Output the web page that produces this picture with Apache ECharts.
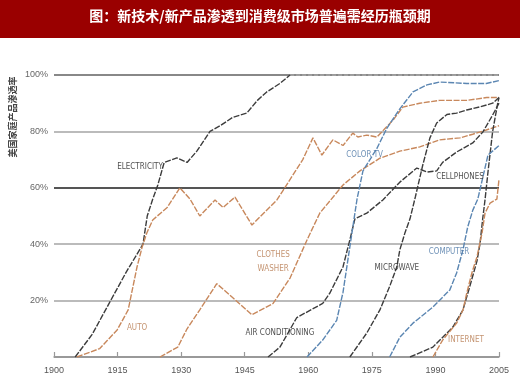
<!DOCTYPE html>
<html><head><meta charset="utf-8">
<script src="https://cdn.jsdelivr.net/npm/echarts@6/dist/echarts.min.js"></script>
<style>html,body{margin:0;padding:0;background:#fff}#c{width:520px;height:390px}</style>
</head><body><div id="c"></div>
<script>
const BASE_YEAR = 1900;
const titleText = '图：新技术/新产品渗透到消费级市场普遍需经历瓶颈期';
const yAxisTitle = '美国家庭产品渗透率';

const electricityYears = [1905,1909,1913,1917,1921,1922,1923.3,1924.5,1926,1929,1931.4,1933.7,1936.8,1939.2,1942.2,1945.5,1948,1950.2,1953.3,1955.7];
const electricityValues = [0,8,19,30,40,50,56,61,69,70.6,69,73,80,82,85,86.5,91,94,97,100];
const electricityFullYears = [1955.7,2005];
const electricityFullValues = [100,100];

const autoYears = [1905.4,1910.8,1914.9,1917.5,1919.6,1920.8,1921.9,1923.3,1926.7,1929.7,1932.1,1934.4,1938,1939.9,1942.7,1946.7,1952.6,1953.8,1958.7,1961.1,1963.2,1965.8,1968.2,1970.5,1971.7,1973.8,1976.2,1978.1,1980,1982.3,1986.3,1991,1997.4,2002.1,2005];
const autoValues = [0,3,9.6,16.7,32,39,44,48.6,53,60,56,50,55.7,53,56.7,46.8,55.7,58.5,70,77.7,71.6,77,75,79.4,78,78.7,78,81,84,88.6,90,91,91,92,92];

const washerYears = [1925,1929.2,1931.4,1934.4,1938.4,1942.2,1946.7,1951.7,1955.7,1959.7,1962.7,1968.2,1972.2,1976.9,1981.6,1986.3,1991,1995.8,1998.8,2002,2005];
const washerValues = [0,3.5,10,16.7,26,21,15,19,28,41.5,51,61,66,70.5,73,74.5,77,77.7,79,80.5,82];

const acYears = [1950.5,1953.3,1957.3,1963.4,1965.1,1968.2,1969.8,1971,1973.8,1977.6,1981.6,1985.6,1988,1990.3,1991.7,1995,1998.8,2001.2,2003.5,2005];
const acValues = [0,3.5,14,19,22.7,32,41.5,49,51,55.7,62,67,65.6,66,69,72.7,75.9,79.8,85.8,90];

const colorTvYears = [1959.7,1963.4,1966.7,1968.2,1969.3,1970.3,1971.5,1972.9,1976.2,1978.5,1981.6,1984.7,1988,1991,1997.4,2002,2005];
const colorTvValues = [0,6,13,23,34,44,56,66,74,81,88,94,96.5,97.5,97,97,98];

const microwaveYears = [1969.8,1973.8,1976.9,1979.2,1980.9,1981.6,1982.8,1984,1985.3,1987,1988.7,1990.3,1992.7,1995,1997.4,2000.5,2003.5,2005];
const microwaveValues = [0,8.5,16.7,25,32,38,44,49,57,68,77.7,83,86,86.5,87.6,88.7,90,92];

const cellphoneYears = [1984,1989.4,1994.1,1996.5,1998.1,1999.8,2000.5,2001.2,2001.7,2002.4,2003.5,2004.7,2005];
const cellphoneValues = [0,3.5,10.6,16.7,25,34,40,49.6,55.7,65.6,80,90,92];

const computerYears = [1979.2,1981.6,1984.7,1989.4,1993.4,1995,1996.5,1997.6,1998.8,2000,2002.4,2005];
const computerValues = [0,7,12,17.7,23.8,29.8,38,46,52,56,71.6,75];

const internetYears = [1989.4,1991.7,1995,1996.5,1997.4,1998.6,1999.8,2001,2001.7,2002.9,2004.5,2005];
const internetValues = [0,6,12,16.7,22.7,29.8,35.5,44,51,54.6,56,63];

const annotationTexts = ['ELECTRICITY','AUTO','CLOTHES\nWASHER','AIR CONDITIONING','COLOR TV','CELLPHONES','MICROWAVE','COMPUTER','INTERNET'];
const annotationYears = [1920.3,1919.6,1951.7,1953.3,1973.3,1995.8,1980.9,1993.2,1997.2];
const annotationValues = [67.4,10.3,33.7,8.5,71.6,63.8,31.6,37.2,6];
const annotationKinds = ['k','o','o','k','b','k','k','b','o'];

const BLACK = '#3c3c3c', ORANGE = '#c8885c', BLUE = '#5b86b2';
const TEXT_COLORS = {k:'#222', o:'#b5784c', b:'#4a76a5'};

function pts(years, values){ return years.map((y,i)=>[y-BASE_YEAR, values[i]]); }
function lineSeries(name, years, values, color, extra){
  return Object.assign({
    name, type:'line', data: pts(years, values), showSymbol:false, symbol:'none',
    lineStyle:{color, width:1.4, type:[6,1.5]}, silent:true, z:3
  }, extra||{});
}

const chart = echarts.init(document.getElementById('c'), null, {renderer:'canvas'});
chart.setOption({
  animation:false,
  backgroundColor:'#fff',
  grid:{left:54, right:21, top:75, bottom:33},
  xAxis:{
    type:'value', min:0, max:105, interval:15,
    axisLine:{lineStyle:{color:'#999', width:1.5}},
    axisTick:{inside:true, length:5, lineStyle:{color:'#999', width:1.2}},
    axisLabel:{formatter:v=>String(BASE_YEAR+v), color:'#555', fontSize:9, margin:9, fontFamily:'Liberation Sans Narrow, Liberation Sans, sans-serif'},
    splitLine:{show:false}
  },
  yAxis:{
    type:'value', min:0, max:100, interval:20,
    axisLine:{show:false}, axisTick:{show:false},
    axisLabel:{formatter:v=> v===0 ? '' : v+'%', color:'#666', fontSize:9, margin:6, fontFamily:'Liberation Sans Narrow, Liberation Sans, sans-serif'},
    splitLine:{lineStyle:{color:['#999','#bbb','#bbb','#555','#bbb','#888'], width:2}}
  },
  graphic:[
    {type:'rect', left:0, top:0, shape:{width:520, height:38}, style:{fill:'#9a0000'}, z:10},
    {type:'text', x:260, y:16, style:{text:titleText, fill:'#fff', font:'bold 14px "Noto Sans CJK SC", sans-serif', align:'center', verticalAlign:'middle'}, z:11},
    {type:'text', x:13, y:117, rotation:Math.PI/2, style:{text:yAxisTitle, fill:'#444', font:'bold 9px "Noto Sans CJK SC", sans-serif', align:'center', verticalAlign:'middle'}, z:11}
  ],
  series:[
    lineSeries('电力饱和', electricityFullYears, electricityFullValues, '#aaa', {lineStyle:{color:'#aaa', width:1.5, type:[4,2]}, z:2}),
    lineSeries('Electricity', electricityYears, electricityValues, BLACK),
    lineSeries('Auto', autoYears, autoValues, ORANGE),
    lineSeries('Clothes washer', washerYears, washerValues, ORANGE),
    lineSeries('Air conditioning', acYears, acValues, BLACK),
    lineSeries('Color TV', colorTvYears, colorTvValues, BLUE),
    lineSeries('Microwave', microwaveYears, microwaveValues, BLACK),
    lineSeries('Cellphones', cellphoneYears, cellphoneValues, BLACK),
    lineSeries('Computer', computerYears, computerValues, BLUE),
    lineSeries('Internet', internetYears, internetValues, ORANGE),
    {
      type:'scatter', silent:true, symbolSize:0, z:5,
      data: annotationTexts.map((t,i)=>({
        value:[annotationYears[i]-BASE_YEAR, annotationValues[i]],
        label:{show:true, position:'inside', formatter:t, color:TEXT_COLORS[annotationKinds[i]], fontSize:8, lineHeight:14,
          fontFamily:'Liberation Sans Narrow, DejaVu Sans Condensed, sans-serif'}
      }))
    }
  ]
});
</script></body></html>
